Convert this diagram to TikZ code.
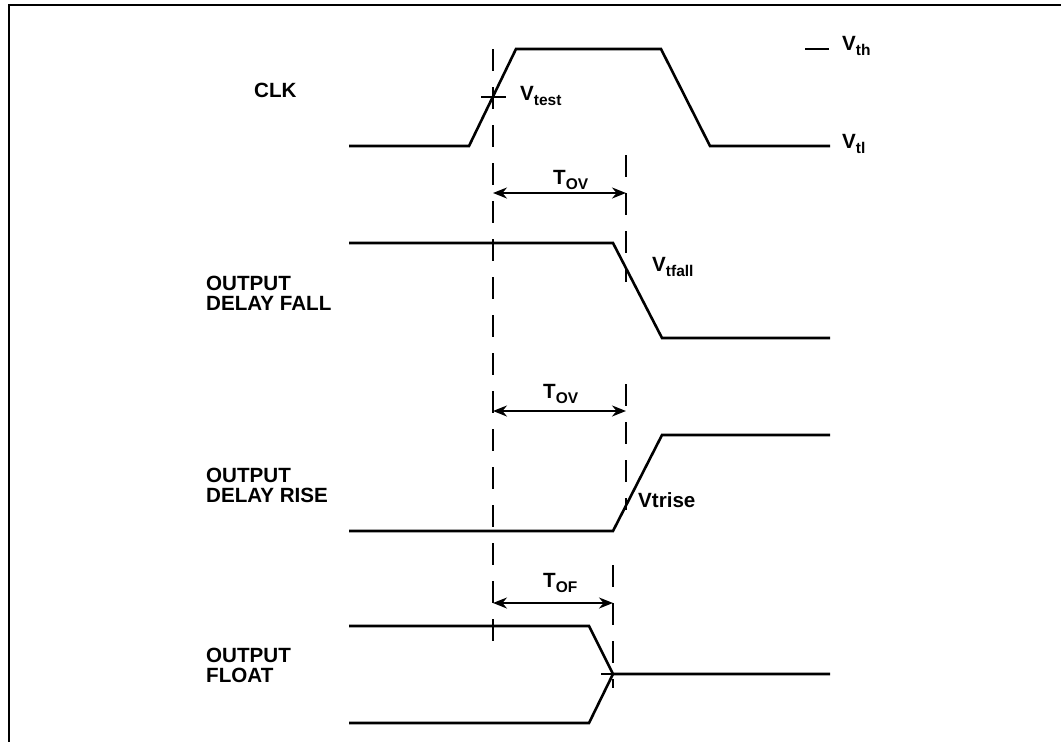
\documentclass[tikz,border=0pt]{standalone}
\usepackage{fontspec}
\setmainfont{Liberation Sans}
\usetikzlibrary{arrows.meta,positioning}

\newcommand{\vsb}[2]{#1\raisebox{-5pt}{\fontsize{15.5pt}{15.5pt}\selectfont #2}}

\begin{document}
\begin{tikzpicture}[x=1pt,y=-1pt,
	  wave/.style={line width=2.6pt},
	  guide/.style={line width=2pt,dash pattern=on 22pt off 16pt},
	  span/.style={line width=2pt,{Stealth[length=14pt,width=11pt]}-{Stealth[length=14pt,width=11pt]}},
	  lbl/.style={font=\fontsize{20.6pt}{19.5pt}\selectfont\bfseries,inner sep=0pt,align=left},
	  vlbl/.style={font=\fontsize{20.6pt}{20pt}\selectfont\bfseries,inner sep=0pt,anchor=base west}]
	  \useasboundingbox (0,0) rectangle (1061,742);
	  \draw[line width=2.6pt] (9,742) -- (9,5) -- (1061,5);

	  % signal names
	  \node[lbl,anchor=north west] (clk) at (254,83) {CLK};
	  \node[lbl,anchor=north west] (odf) at (206,276) {OUTPUT\\DELAY FALL};
	  \node[lbl,anchor=north west] (odr) at (206,468) {OUTPUT\\DELAY RISE};
	  \node[lbl,anchor=north west] (oflt) at (206,648) {OUTPUT\\FLOAT};

	  % clock
	  \coordinate (c0) at (349,146);
	  \coordinate (c1) at (469,146);
	  \coordinate (c2) at (516,49);
	  \coordinate (c3) at (661,49);
	  \coordinate (c4) at (710,146);
	  \coordinate (c5) at (830,146);
	  \draw[wave] (c0) -- (c1) -- (c2) -- (c3) -- (c4) -- (c5);
	  \coordinate (th0) at (805,49);
	  \coordinate (th1) at (829,49);
	  \draw[line width=2pt] (th0) -- (th1);
	  \node[vlbl] (vth) at (842,50) {\vsb{V}{th}};
	  \node[vlbl] (vtl) at (842,148) {\vsb{V}{tl}};
	  \coordinate (xt0) at (481,97);
	  \coordinate (xt1) at (506,97);
	  \draw[line width=2pt] (xt0) -- (xt1);
	  \node[vlbl] (vtest) at (520,100) {\vsb{V}{test}};

	  % output delay fall
	  \coordinate (f0) at (349,243);
	  \coordinate (f1) at (613,243);
	  \coordinate (f2) at (662,338);
	  \coordinate (f3) at (830,338);
	  \draw[wave] (f0) -- (f1) -- (f2) -- (f3);
	  \node[vlbl] (vtfall) at (652,271) {\vsb{V}{tfall}};

	  % output delay rise
	  \coordinate (r0) at (349,531);
	  \coordinate (r1) at (613,531);
	  \coordinate (r2) at (662,435);
	  \coordinate (r3) at (830,435);
	  \draw[wave] (r0) -- (r1) -- (r2) -- (r3);
	  \node[vlbl] (vtrise) at (638,507) {Vtrise};

	  % output float
	  \coordinate (h0) at (349,626);
	  \coordinate (h1) at (589,626);
	  \coordinate (m0) at (613,674);
	  \coordinate (m1) at (830,674);
	  \coordinate (l0) at (349,723);
	  \coordinate (l1) at (589,723);
	  \draw[wave] (h0) -- (h1) -- (m0) -- (m1);
	  \draw[wave] (l0) -- (l1) -- (m0);
	  \coordinate (ft) at (601,674);
	  \draw[line width=2pt] (ft) -- (m0);

	  % timing guides
	  \coordinate (g0) at (493,49);
	  \coordinate (g1) at (493,650);
	  \coordinate (g2) at (626,155);
	  \coordinate (g3) at (626,282);
	  \coordinate (g4) at (626,384);
	  \coordinate (g5) at (626,510);
	  \coordinate (g6) at (613,565);
	  \coordinate (g7) at (613,688);
	  \draw[guide] (g0) -- (g1);
	  \draw[guide] (g2) -- (g3);
	  \draw[guide] (g4) -- (g5);
	  \draw[guide] (g6) -- (g7);

	  % intervals
	  \coordinate (a0) at (493,193);
	  \coordinate (a1) at (626,193);
	  \coordinate (b0) at (493,411);
	  \coordinate (b1) at (626,411);
	  \coordinate (d0) at (493,603);
	  \coordinate (d1) at (613,603);
	  \draw[span] (a0) -- (a1);
	  \draw[span] (b0) -- (b1);
	  \draw[span] (d0) -- (d1);
	  \node[vlbl] (tov1) at (553,184) {\vsb{T}{OV}};
	  \node[vlbl] (tov2) at (543,398) {\vsb{T}{OV}};
	  \node[vlbl] (tof) at (543,587) {\vsb{T}{OF}};
\end{tikzpicture}
\end{document}
